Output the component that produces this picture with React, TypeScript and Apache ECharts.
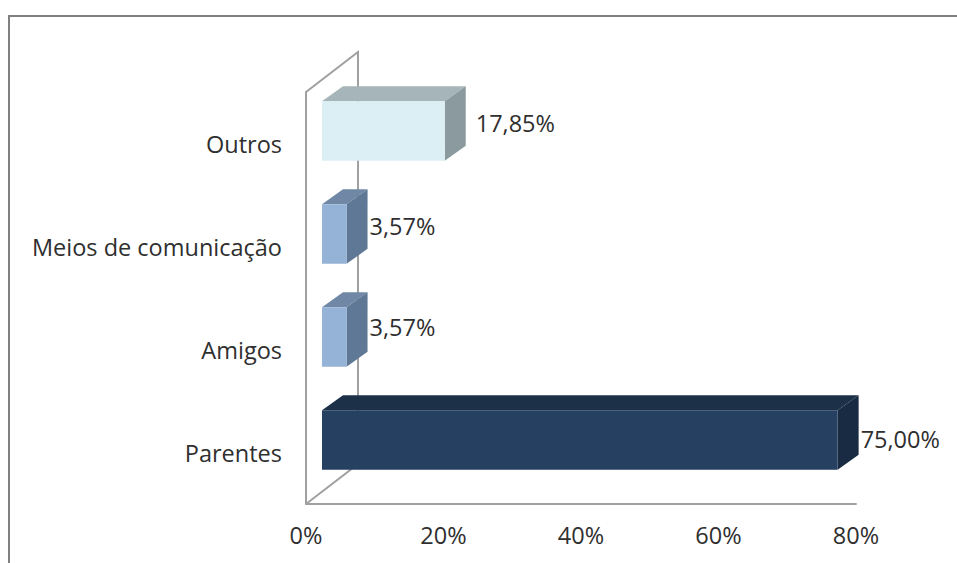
import React, { useEffect, useRef } from "react";
import * as echarts from "echarts";

const categories = ["Parentes", "Amigos", "Meios de comunicação", "Outros"];
const shares = [75.0, 3.57, 3.57, 17.85];
const valueTicks = { min: 0, max: 80, interval: 20 };

const FONT = "'Open Sans', sans-serif";
const FONT_SIZE = 23.5;
const TEXT = "#2f2f2f";
const frontColors = ["#254061", "#95B3D7", "#95B3D7", "#DCEFF5"];
const topColors = ["#1C3048", "#7088A6", "#7088A6", "#A5B5B9"];
const sideColors = ["#182B42", "#5F7896", "#5F7896", "#8B9A9E"];
const labelShift = [
  [3, -1],
  [3, -10],
  [3, -8],
  [11, -8],
];

export default function App() {
  const ref = useRef<HTMLDivElement>(null);
  useEffect(() => {
    const chart = echarts.init(ref.current!, undefined, { renderer: "svg" });
    const wall = "#A0A0A0";
    chart.setOption({
      animation: false,
      backgroundColor: "#fff",
      grid: { left: 306, top: 92, width: 550, height: 412 },
      xAxis: {
        type: "value",
        ...valueTicks,
        splitLine: { show: false },
        axisTick: { show: false },
        axisLine: { show: true, lineStyle: { color: wall, width: 2 } },
        axisLabel: {
          formatter: "{value}%",
          color: TEXT,
          fontFamily: FONT,
          fontSize: FONT_SIZE,
          margin: 19,
        },
      },
      yAxis: {
        type: "category",
        data: categories,
        axisTick: { show: false },
        axisLine: { show: true, lineStyle: { color: wall, width: 2 } },
        axisLabel: {
          color: TEXT,
          fontFamily: FONT,
          fontSize: FONT_SIZE,
          margin: 24,
          padding: [0, 0, 2, 0],
        },
      },
      graphic: [
        {
          type: "polyline",
          z: 0,
          shape: { points: [[9, 563], [9, 16], [957, 16]] },
          style: { stroke: "#808080", lineWidth: 2, fill: "none" },
        },
        {
          type: "polyline",
          z: 0,
          shape: { points: [[306, 92], [358, 52], [358, 464], [306, 504]] },
          style: { stroke: wall, lineWidth: 2, fill: "none" },
        },
      ],
      series: [
        {
          type: "custom",
          coordinateSystem: "cartesian2d",
          clip: false,
          z: 5,
          encode: { x: 0, y: 1 },
          data: shares.map((v, i) => [v, i]),
          renderItem: (params: any, api: any) => {
            const i = params.dataIndex;
            const value = api.value(0);
            const band = api.size([0, 1])[1];
            const [x1, cy] = api.coord([value, i]);
            const [x00] = api.coord([0, i]);
            const dx = 21;
            const dy = 15;
            const h = band * 0.58;
            const left = x00 + 16;
            const right = x1 + 16;
            const top = cy - 12.5 - h / 2;
            const bottom = top + h;
            const [sx, sy] = labelShift[i];
            return {
              type: "group",
              children: [
                {
                  type: "polygon",
                  shape: { points: [[left, top], [left + dx, top - dy], [right + dx, top - dy], [right, top]] },
                  style: { fill: topColors[i] },
                },
                {
                  type: "polygon",
                  shape: { points: [[right, top], [right + dx, top - dy], [right + dx, bottom - dy], [right, bottom]] },
                  style: { fill: sideColors[i] },
                },
                {
                  type: "rect",
                  shape: { x: left, y: top, width: right - left, height: h },
                  style: { fill: frontColors[i] },
                },
                {
                  type: "text",
                  style: {
                    x: right + dx + sx - 1,
                    y: cy - 12.5 + sy,
                    text: value.toFixed(2).replace(".", ",") + "%",
                    fill: TEXT,
                    font: `${FONT_SIZE}px ${FONT}`,
                    textAlign: "left",
                    textVerticalAlign: "middle",
                  },
                },
              ],
            };
          },
        },
      ],
    });
    return () => chart.dispose();
  }, []);
  return (
    <div
      ref={ref}
      style={{ position: "absolute", left: 0, top: 0, width: 957, height: 563 }}
    />
  );
}
